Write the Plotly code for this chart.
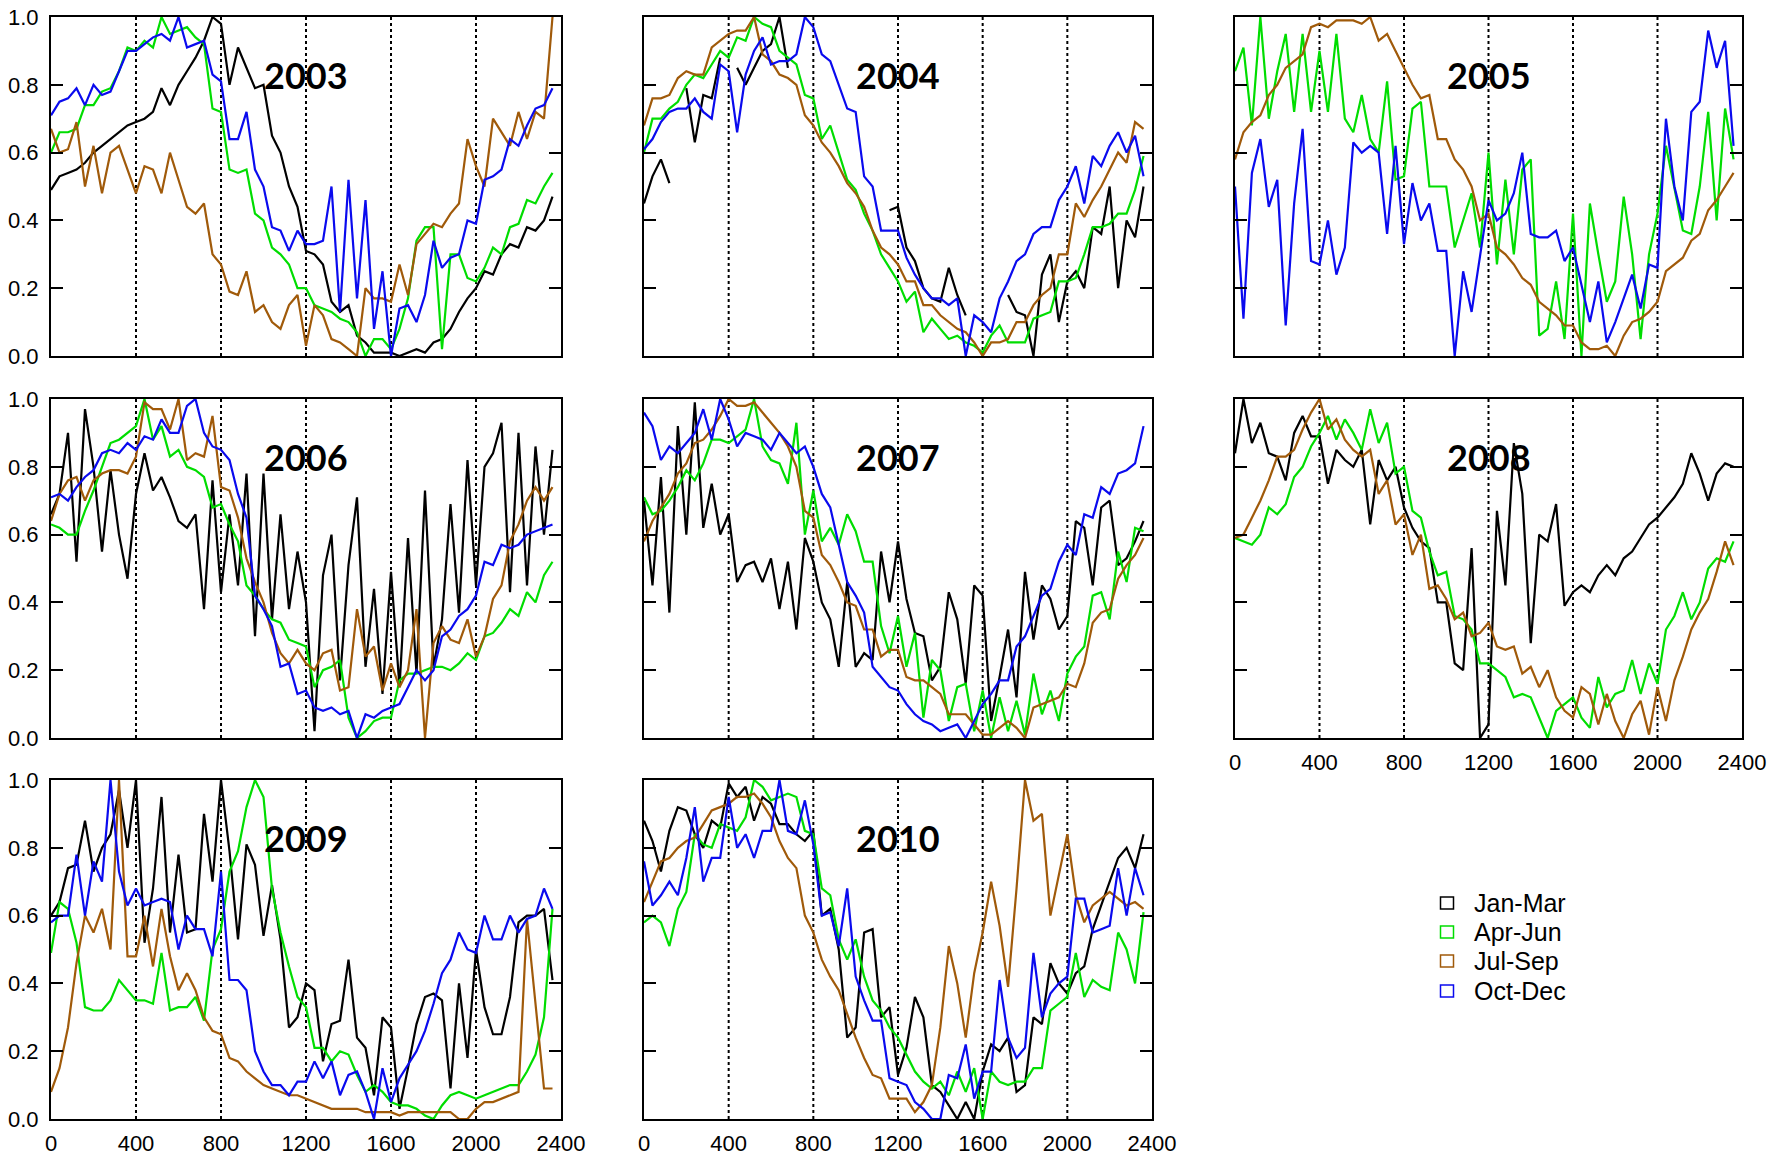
import plotly.graph_objects as go

# ---------------- data ----------------
X = [0, 40, 80, 120, 160, 200, 240, 280, 320, 360,
     400, 440, 480, 520, 560, 600, 640, 680, 720, 760,
     800, 840, 880, 920, 960, 1000, 1040, 1080, 1120, 1160,
     1200, 1240, 1280, 1320, 1360, 1400, 1440, 1480, 1520, 1560,
     1600, 1640, 1680, 1720, 1760, 1800, 1840, 1880, 1920, 1960,
     2000, 2040, 2080, 2120, 2160, 2200, 2240, 2280, 2320, 2360]

SERIES = ["Jan-Mar", "Apr-Jun", "Jul-Sep", "Oct-Dec"]
COLORS = ["#000000", "#00DD00", "#A05A0A", "#0A0AEE"]
YEARS = ["2003", "2004", "2005", "2006", "2007", "2008", "2009", "2010"]
XTICKS = [0, 400, 800, 1200, 1600, 2000, 2400]
YTICKS = [0.0, 0.2, 0.4, 0.6, 0.8, 1.0]
VLINES = [400, 800, 1200, 1600, 2000]

N = None

Y2003_JAN = [0.49,0.53,0.54,0.55,0.57,0.60,0.62,0.64,0.66,0.68, 0.69,0.70,0.72,0.79,0.74,0.80,0.84,0.88,0.93,1.00,
             0.98,0.80,0.91,0.85,0.79,0.80,0.65,0.60,0.50,0.44, 0.31,0.30,0.27,0.16,0.13,0.15,0.06,0.04,0.01,0.01,
             0.01,0.00,0.01,0.02,0.01,0.04,0.05,0.08,0.13,0.17, 0.20,0.25,0.24,0.30,0.33,0.32,0.38,0.37,0.40,0.47]
Y2003_APR = [0.60,0.66,0.66,0.67,0.74,0.74,0.78,0.79,0.84,0.91, 0.90,0.93,0.91,1.00,0.95,0.96,0.97,0.94,0.92,0.73,
             0.72,0.55,0.54,0.55,0.42,0.40,0.32,0.30,0.27,0.20, 0.20,0.15,0.14,0.13,0.11,0.10,0.07,0.00,0.05,0.05,
             0.02,0.08,0.17,0.34,0.38,0.38,0.02,0.30,0.30,0.23, 0.22,0.26,0.32,0.30,0.38,0.39,0.46,0.45,0.50,0.54]
Y2003_JUL = [0.67,0.60,0.61,0.69,0.50,0.62,0.48,0.60,0.62,0.55, 0.48,0.56,0.55,0.48,0.60,0.52,0.44,0.42,0.45,0.30,
             0.27,0.19,0.18,0.25,0.13,0.15,0.10,0.08,0.15,0.18, 0.03,0.15,0.12,0.05,0.04,0.02,0.00,0.20,0.17,0.17,
             0.16,0.27,0.18,0.33,0.36,0.39,0.38,0.42,0.45,0.64, 0.56,0.50,0.70,0.66,0.62,0.72,0.64,0.72,0.70,1.00]
Y2003_OCT = [0.71,0.75,0.76,0.79,0.74,0.80,0.77,0.78,0.84,0.90, 0.90,0.92,0.94,0.95,0.93,1.00,0.91,0.92,0.93,0.83,
             0.81,0.64,0.64,0.72,0.55,0.50,0.38,0.37,0.31,0.37, 0.33,0.33,0.34,0.50,0.13,0.52,0.17,0.46,0.08,0.25,
             0.00,0.14,0.15,0.10,0.18,0.34,0.26,0.29,0.30,0.40, 0.39,0.52,0.53,0.55,0.64,0.62,0.68,0.73,0.74,0.79]

Y2004_JAN = [0.45,0.53,0.58,0.51,N,0.79,0.63,0.77,0.76,0.88, N,0.85,0.80,0.85,0.90,0.92,1.00,0.85,N,N,
             N,N,N,N,N,N,N,N,N,0.43, 0.44,0.32,0.28,0.20,0.17,0.16,0.26,0.18,0.12,N,
             N,N,N,0.18,0.13,0.12,0.00,0.24,0.30,0.10, 0.22,0.25,0.20,0.38,0.36,0.50,0.20,0.40,0.35,0.50]
Y2004_APR = [0.60,0.70,0.70,0.73,0.75,0.80,0.83,0.82,0.86,0.90, 0.88,0.94,0.93,1.00,0.98,0.97,0.90,0.88,0.86,0.77,
             0.76,0.64,0.68,0.60,0.52,0.49,0.42,0.37,0.30,0.26, 0.22,0.16,0.19,0.07,0.11,0.08,0.05,0.06,0.04,0.03,
             0.01,0.06,0.09,0.04,0.04,0.04,0.11,0.12,0.13,0.22, 0.22,0.23,0.30,0.38,0.38,0.39,0.42,0.42,0.49,0.59]
Y2004_JUL = [0.68,0.76,0.76,0.77,0.82,0.84,0.83,0.83,0.91,0.93, 0.95,0.96,0.96,1.00,0.89,0.87,0.83,0.82,0.80,0.71,
             0.68,0.63,0.60,0.56,0.51,0.48,0.44,0.37,0.32,0.30, 0.27,0.22,0.22,0.15,0.15,0.12,0.10,0.08,0.07,0.04,
             0.00,0.04,0.04,0.05,0.10,0.10,0.15,0.18,0.20,0.30, 0.30,0.45,0.41,0.46,0.50,0.55,0.60,0.57,0.69,0.67]
Y2004_OCT = [0.61,0.64,0.69,0.72,0.73,0.73,0.76,0.72,0.70,0.86, 0.84,0.66,0.83,0.90,0.94,0.86,0.87,0.87,0.89,1.00,
             0.97,0.89,0.87,0.80,0.73,0.72,0.53,0.50,0.37,0.37, 0.37,0.29,0.24,0.20,0.17,0.17,0.15,0.17,0.00,0.12,
             0.10,0.07,0.17,0.22,0.28,0.30,0.36,0.38,0.38,0.46, 0.50,0.56,0.45,0.59,0.56,0.62,0.66,0.60,0.65,0.53]

Y2005_JAN = None
Y2005_APR = [0.84,0.91,0.68,1.00,0.70,0.84,0.95,0.72,0.95,0.72, 0.90,0.72,0.95,0.70,0.66,0.77,0.64,0.60,0.81,0.52,
             0.53,0.73,0.75,0.50,0.50,0.50,0.32,0.40,0.48,0.32, 0.60,0.27,0.52,0.30,0.55,0.58,0.06,0.08,0.22,0.05,
             0.42,0.00,0.45,0.30,0.16,0.22,0.47,0.30,0.05,0.30, 0.42,0.62,0.50,0.37,0.36,0.50,0.72,0.40,0.73,0.58]
Y2005_JUL = [0.58,0.66,0.69,0.71,0.77,0.80,0.85,0.87,0.89,0.97, 0.98,0.97,0.99,0.99,0.99,0.98,1.00,0.93,0.95,0.90,
             0.85,0.80,0.76,0.77,0.64,0.64,0.58,0.55,0.50,0.40, 0.42,0.32,0.30,0.27,0.23,0.21,0.16,0.14,0.12,0.09,
             0.09,0.04,0.02,0.02,0.03,0.00,0.06,0.10,0.11,0.13, 0.16,0.25,0.27,0.29,0.34,0.36,0.43,0.46,0.50,0.54]
Y2005_OCT = [0.50,0.11,0.54,0.64,0.44,0.52,0.09,0.45,0.67,0.28, 0.27,0.40,0.24,0.32,0.63,0.60,0.62,0.60,0.36,0.62,
             0.33,0.51,0.40,0.45,0.31,0.31,0.00,0.25,0.13,0.30, 0.46,0.40,0.42,0.48,0.60,0.36,0.35,0.35,0.37,0.28,
             0.32,0.21,0.10,0.22,0.04,0.10,0.17,0.24,0.14,0.27, 0.26,0.70,0.50,0.40,0.72,0.75,0.96,0.85,0.93,0.62]

Y2006_JAN = [0.66,0.72,0.90,0.52,0.97,0.80,0.55,0.79,0.60,0.47, 0.72,0.84,0.73,0.77,0.71,0.64,0.62,0.66,0.38,0.76,
             0.43,0.66,0.45,0.78,0.30,0.78,0.35,0.66,0.38,0.55, 0.40,0.02,0.48,0.60,0.17,0.51,0.71,0.21,0.44,0.13,
             0.49,0.15,0.59,0.19,0.73,0.21,0.35,0.69,0.37,0.82, 0.45,0.80,0.84,0.93,0.43,0.90,0.45,0.86,0.60,0.85]
Y2006_APR = [0.63,0.62,0.60,0.60,0.67,0.73,0.80,0.87,0.88,0.90, 0.92,1.00,0.88,0.92,0.83,0.85,0.80,0.79,0.77,0.68,
             0.69,0.63,0.58,0.45,0.42,0.38,0.35,0.34,0.29,0.28, 0.27,0.15,0.20,0.21,0.23,0.06,0.00,0.02,0.05,0.06,
             0.06,0.17,0.19,0.19,0.20,0.21,0.21,0.20,0.22,0.25, 0.23,0.30,0.31,0.34,0.38,0.36,0.43,0.40,0.48,0.52]
Y2006_JUL = [0.64,0.72,0.76,0.77,0.70,0.76,0.78,0.79,0.79,0.78, 0.83,0.99,0.97,0.97,0.91,1.00,0.82,0.84,0.83,0.95,
             0.74,0.73,0.65,0.53,0.46,0.40,0.31,0.25,0.22,0.26, 0.22,0.20,0.25,0.26,0.14,0.15,0.38,0.24,0.27,0.14,
             0.22,0.15,0.20,0.38,0.00,0.28,0.33,0.29,0.28,0.35, 0.24,0.30,0.41,0.45,0.58,0.63,0.70,0.74,0.70,0.74]
Y2006_OCT = [0.71,0.72,0.70,0.74,0.77,0.79,0.84,0.85,0.84,0.87, 0.85,0.89,0.88,0.94,0.90,0.90,0.98,1.00,0.90,0.86,
             0.85,0.82,0.72,0.65,0.42,0.38,0.33,0.21,0.22,0.13, 0.14,0.09,0.08,0.09,0.07,0.08,0.00,0.07,0.06,0.08,
             0.09,0.10,0.15,0.20,0.17,0.20,0.30,0.32,0.36,0.38, 0.42,0.52,0.51,0.57,0.56,0.57,0.60,0.61,0.62,0.63]

Y2007_JAN = [0.70,0.45,0.77,0.37,0.92,0.60,0.99,0.62,0.75,0.60, 0.66,0.46,0.51,0.52,0.46,0.53,0.38,0.52,0.32,0.59,
             0.52,0.40,0.35,0.21,0.46,0.21,0.25,0.23,0.55,0.40, 0.58,0.41,0.31,0.30,0.17,0.21,0.43,0.35,0.16,0.45,
             0.42,0.05,0.18,0.32,0.12,0.49,0.29,0.45,0.41,0.32, 0.36,0.64,0.62,0.45,0.68,0.70,0.51,0.53,0.58,0.64]
Y2007_APR = [0.71,0.66,0.67,0.70,0.74,0.79,0.76,0.81,0.88,0.88, 0.87,0.89,0.91,1.00,0.86,0.82,0.81,0.75,0.93,0.60,
             0.73,0.58,0.62,0.57,0.66,0.61,0.52,0.52,0.33,0.25, 0.36,0.21,0.31,0.06,0.23,0.20,0.05,0.15,0.16,0.02,
             0.14,0.00,0.12,0.02,0.11,0.01,0.19,0.07,0.14,0.05, 0.19,0.24,0.27,0.42,0.43,0.35,0.55,0.46,0.62,0.61]
Y2007_JUL = [0.58,0.64,0.68,0.72,0.78,0.81,0.87,0.88,0.91,0.95, 1.00,0.98,0.98,0.99,0.96,0.93,0.90,0.86,0.80,0.67,
             0.65,0.54,0.51,0.46,0.40,0.39,0.32,0.32,0.24,0.26, 0.26,0.18,0.17,0.17,0.15,0.13,0.07,0.07,0.07,0.04,
             0.01,0.01,0.03,0.05,0.03,0.00,0.09,0.10,0.11,0.12, 0.16,0.15,0.22,0.34,0.37,0.38,0.47,0.51,0.54,0.59]
Y2007_OCT = [0.96,0.92,0.82,0.86,0.84,0.87,0.90,0.97,0.88,1.00, 0.94,0.86,0.90,0.89,0.88,0.85,0.90,0.87,0.84,0.86,
             0.80,0.72,0.68,0.57,0.46,0.42,0.37,0.21,0.18,0.15, 0.14,0.10,0.07,0.05,0.04,0.02,0.03,0.04,0.00,0.05,
             0.10,0.13,0.17,0.17,0.27,0.30,0.36,0.42,0.44,0.52, 0.57,0.54,0.66,0.65,0.74,0.72,0.78,0.79,0.81,0.92]

Y2008_JAN = [0.84,1.00,0.87,0.93,0.84,0.83,0.76,0.90,0.95,0.89, 0.89,0.75,0.85,0.82,0.80,0.85,0.63,0.82,0.76,0.80,
             0.68,0.62,0.58,0.56,0.40,0.40,0.22,0.20,0.56,0.00, 0.04,0.67,0.45,0.87,0.72,0.28,0.60,0.58,0.69,0.39,
             0.43,0.45,0.43,0.48,0.51,0.48,0.53,0.55,0.59,0.63, 0.65,0.68,0.71,0.75,0.84,0.78,0.70,0.78,0.81,0.80]
Y2008_APR = [0.59,0.58,0.57,0.60,0.68,0.66,0.69,0.77,0.80,0.86, 0.90,0.95,0.88,0.94,0.90,0.85,0.97,0.87,0.93,0.78,
             0.80,0.67,0.65,0.55,0.48,0.49,0.36,0.35,0.32,0.22, 0.22,0.20,0.18,0.12,0.13,0.12,0.06,0.00,0.08,0.10,
             0.12,0.06,0.03,0.18,0.09,0.13,0.14,0.23,0.13,0.22, 0.16,0.32,0.36,0.43,0.35,0.40,0.50,0.53,0.52,0.58]
Y2008_JUL = [0.59,0.60,0.65,0.70,0.76,0.83,0.83,0.85,0.91,0.96, 1.00,0.91,0.94,0.88,0.85,0.83,0.85,0.72,0.76,0.63,
             0.66,0.54,0.60,0.44,0.45,0.41,0.35,0.37,0.30,0.31, 0.34,0.27,0.26,0.27,0.19,0.21,0.15,0.20,0.12,0.08,
             0.06,0.15,0.13,0.04,0.13,0.05,0.00,0.07,0.11,0.01, 0.15,0.05,0.17,0.24,0.32,0.37,0.41,0.49,0.58,0.51]
Y2008_OCT = None

Y2009_JAN = [0.60,0.64,0.74,0.75,0.88,0.73,0.80,0.84,0.97,0.80, 1.00,0.52,0.68,0.95,0.55,0.78,0.55,0.56,0.90,0.70,
             1.00,0.79,0.53,0.81,0.75,0.54,0.69,0.53,0.27,0.30, 0.40,0.38,0.17,0.28,0.29,0.47,0.24,0.21,0.07,0.30,
             0.27,0.03,0.15,0.28,0.36,0.37,0.35,0.09,0.40,0.18, 0.50,0.33,0.25,0.25,0.36,0.58,0.60,0.60,0.62,0.41]
Y2009_APR = [0.49,0.64,0.62,0.52,0.33,0.32,0.32,0.35,0.41,0.38, 0.35,0.35,0.34,0.49,0.32,0.33,0.33,0.36,0.29,0.50,
             0.56,0.73,0.79,0.92,1.00,0.95,0.68,0.55,0.45,0.36, 0.33,0.21,0.21,0.17,0.20,0.19,0.13,0.08,0.10,0.08,
             0.05,0.04,0.04,0.03,0.01,0.00,0.04,0.07,0.08,0.07, 0.06,0.07,0.08,0.09,0.10,0.10,0.14,0.19,0.30,0.62]
Y2009_JUL = [0.08,0.15,0.27,0.46,0.60,0.55,0.62,0.50,1.00,0.48, 0.48,0.60,0.45,0.62,0.48,0.38,0.43,0.38,0.30,0.26,
             0.25,0.18,0.17,0.14,0.12,0.10,0.09,0.08,0.07,0.07, 0.06,0.05,0.04,0.03,0.03,0.03,0.03,0.02,0.02,0.02,
             0.02,0.01,0.02,0.02,0.02,0.02,0.02,0.02,0.00,0.00, 0.03,0.05,0.05,0.06,0.07,0.08,0.59,0.35,0.09,0.09]
Y2009_OCT = [0.58,0.60,0.60,0.78,0.60,0.76,0.70,1.00,0.73,0.63, 0.68,0.63,0.64,0.65,0.64,0.50,0.60,0.56,0.56,0.48,
             0.73,0.41,0.41,0.38,0.20,0.14,0.10,0.10,0.07,0.11, 0.11,0.17,0.12,0.17,0.07,0.13,0.14,0.08,0.00,0.15,
             0.05,0.12,0.16,0.20,0.26,0.34,0.43,0.47,0.55,0.50, 0.49,0.60,0.53,0.53,0.60,0.55,0.59,0.60,0.68,0.62]

Y2010_JAN = [0.88,0.82,0.73,0.85,0.92,0.91,0.84,0.80,0.88,0.86, 0.99,0.95,0.98,0.88,0.95,0.93,0.87,0.87,0.84,0.82,
             0.85,0.60,0.62,0.50,0.24,0.27,0.55,0.56,0.30,0.33, 0.13,0.21,0.36,0.30,0.10,0.08,0.04,0.00,0.05,0.00,
             0.14,0.22,0.20,0.24,0.08,0.10,0.30,0.28,0.46,0.40, 0.37,0.43,0.45,0.56,0.63,0.70,0.77,0.80,0.74,0.84]
Y2010_APR = [0.58,0.60,0.58,0.51,0.62,0.67,0.84,0.81,0.80,0.87, 0.86,0.85,0.89,1.00,0.98,0.94,0.95,0.96,0.95,0.85,
             0.84,0.68,0.66,0.53,0.47,0.53,0.42,0.35,0.32,0.27, 0.24,0.19,0.14,0.11,0.09,0.11,0.07,0.14,0.08,0.15,
             0.00,0.14,0.11,0.10,0.11,0.11,0.15,0.15,0.32,0.34, 0.36,0.49,0.36,0.41,0.39,0.38,0.55,0.50,0.40,0.61]
Y2010_JUL = [0.64,0.70,0.76,0.77,0.80,0.82,0.83,0.87,0.91,0.92, 0.93,0.95,0.95,0.96,0.93,0.89,0.82,0.77,0.74,0.60,
             0.55,0.47,0.42,0.38,0.31,0.24,0.18,0.13,0.12,0.06, 0.06,0.06,0.02,0.05,0.10,0.27,0.51,0.40,0.24,0.43,
             0.55,0.70,0.57,0.39,0.68,1.00,0.88,0.90,0.60,0.72, 0.84,0.66,0.58,0.63,0.65,0.67,0.65,0.63,0.64,0.62]
Y2010_OCT = [0.76,0.63,0.66,0.70,0.66,0.77,0.92,0.70,0.77,0.77, 0.95,0.80,0.84,0.77,0.85,0.85,1.00,0.85,0.84,0.94,
             0.81,0.60,0.61,0.51,0.68,0.42,0.35,0.29,0.29,0.12, 0.11,0.10,0.05,0.03,0.00,0.00,0.13,0.12,0.22,0.06,
             0.14,0.14,0.41,0.24,0.18,0.21,0.49,0.30,0.37,0.40, 0.42,0.65,0.65,0.55,0.56,0.57,0.74,0.60,0.74,0.66]

PANELS = [
    [Y2003_JAN, Y2003_APR, Y2003_JUL, Y2003_OCT],
    [Y2004_JAN, Y2004_APR, Y2004_JUL, Y2004_OCT],
    [Y2005_JAN, Y2005_APR, Y2005_JUL, Y2005_OCT],
    [Y2006_JAN, Y2006_APR, Y2006_JUL, Y2006_OCT],
    [Y2007_JAN, Y2007_APR, Y2007_JUL, Y2007_OCT],
    [Y2008_JAN, Y2008_APR, Y2008_JUL, Y2008_OCT],
    [Y2009_JAN, Y2009_APR, Y2009_JUL, Y2009_OCT],
    [Y2010_JAN, Y2010_APR, Y2010_JUL, Y2010_OCT],
]

# ---------------- layout geometry (page pixels) ----------------
W, H = 1788, 1155
COL_PX = [(51, 561), (644, 1152), (1235, 1742)]
ROW_PX = [(17, 356), (399, 738), (780, 1119)]
FONT = "Liberation Sans, Arial, sans-serif"

def px_x(p):
    return p / W

def px_y(p):
    return 1 - p / H

def xd(a, b):
    return [px_x(a), px_x(b)]

def yd(a, b):
    return [px_y(b), px_y(a)]

fig = go.Figure()
layout = dict(
    width=W, height=H,
    margin=dict(l=0, r=0, t=0, b=0, autoexpand=False),
    paper_bgcolor="white", plot_bgcolor="white",
    showlegend=False,
    annotations=[], shapes=[],
)

for i, (year, series) in enumerate(zip(YEARS, PANELS)):
    r, c = divmod(i, 3)
    sfx = "" if i == 0 else str(i + 1)
    for name, color, ys in zip(SERIES, COLORS, series):
        if ys is None:
            continue
        fig.add_trace(go.Scatter(
            x=X, y=ys, mode="lines", name=name,
            line=dict(color=color, width=2.2),
            xaxis="x" + sfx, yaxis="y" + sfx, showlegend=False,
        ))
    show_x = (r == 2) or (i == 5)
    show_y = (c == 0)
    layout["xaxis" + sfx] = dict(
        domain=xd(*COL_PX[c]), range=[0, 2400], anchor="y" + sfx,
        tickvals=XTICKS, showticklabels=show_x, ticks="",
        showline=True, linecolor="black", linewidth=2, mirror=True,
        showgrid=False, zeroline=False, ticklabelstandoff=4,
        automargin=False, ticklabeloverflow="allow",
        tickfont=dict(size=22, family=FONT, color="black"),
    )
    layout["yaxis" + sfx] = dict(
        domain=yd(*ROW_PX[r]), range=[0, 1], anchor="x" + sfx,
        tickvals=YTICKS, tickformat=".1f", showticklabels=show_y,
        ticks="inside", ticklen=12, tickwidth=2, tickcolor="black",
        showline=True, linecolor="black", linewidth=2, mirror="ticks",
        showgrid=False, zeroline=False, ticklabelstandoff=6,
        automargin=False, ticklabeloverflow="allow",
        tickfont=dict(size=22, family=FONT, color="black"),
    )
    for v in VLINES:
        layout["shapes"].append(dict(
            type="line", xref="x" + sfx, yref="y" + sfx,
            x0=v, x1=v, y0=0, y1=1, layer="below",
            line=dict(color="black", width=2, dash="dot"),
        ))
    layout["annotations"].append(dict(
        xref="x" + sfx, yref="y" + sfx, x=1200, y=0.83,
        text="<b>" + year + "</b>", showarrow=False,
        font=dict(size=36, family="Lato, Open Sans, sans-serif", color="black"),
        xanchor="center", yanchor="middle",
    ))

# legend (open squares + labels)
LEG_X_SQ = 1447
LEG_X_TXT = 1472
LEG_ROWS = [903, 932, 961, 991]
for name, color, py in zip(SERIES, COLORS, LEG_ROWS):
    layout["shapes"].append(dict(
        type="rect", xref="paper", yref="paper",
        x0=px_x(LEG_X_SQ - 6.5), x1=px_x(LEG_X_SQ + 6.5),
        y0=px_y(py + 6), y1=px_y(py - 6),
        line=dict(color=color, width=1.5), fillcolor="rgba(0,0,0,0)",
    ))
    layout["annotations"].append(dict(
        xref="paper", yref="paper", x=px_x(LEG_X_TXT), y=px_y(py),
        text=name, showarrow=False, xanchor="left", yanchor="middle",
        font=dict(size=25, family=FONT, color="black"),
    ))

fig.update_layout(**layout)
fig.write_html(
    "out.html",
    config={"displayModeBar": False, "staticPlot": True},
    post_script="document.body.style.margin='0px';document.body.style.overflow='hidden';",
)
